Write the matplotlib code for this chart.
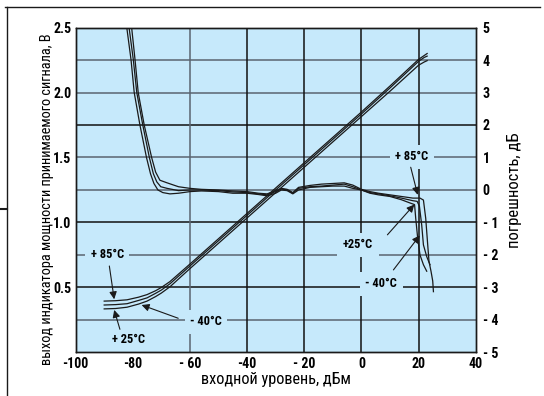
import matplotlib.pyplot as plt
from matplotlib.lines import Line2D
from matplotlib import font_manager

# =========================
# data
# =========================
x_ticks = [-100, -80, -60, -40, -20, 0, 20, 40]
x_tick_labels = ["-100", "-80", "- 60", "-40", "- 20", "0", "20", "40"]
v_ticks = [0.5, 1.0, 1.5, 2.0, 2.5]
v_tick_labels = ["0.5", "1.0", "1.5", "2.0", "2.5"]
db_ticks = [5, 4, 3, 2, 1, 0, -1, -2, -3, -4, -5]
db_tick_labels = ["5", "4", "3", "2", "1", "0", "- 1", "- 2", "- 3", "- 4", "- 5"]

# output voltage vs input level (V)
out_x = [-90, -86, -82, -78, -75, -72, -70, -67, -60, -50, -40, -30, -20, -10, 0, 10, 20, 22, 23]
out_85 = [0.395, 0.398, 0.405, 0.425, 0.445, 0.475, 0.50, 0.545, 0.68, 0.875, 1.07, 1.265,
          1.46, 1.655, 1.85, 2.05, 2.255, 2.285, 2.30]
out_25 = [0.365, 0.368, 0.375, 0.40, 0.42, 0.455, 0.48, 0.528, 0.665, 0.86, 1.055, 1.25,
          1.445, 1.64, 1.835, 2.035, 2.24, 2.27, 2.28]
out_m40 = [0.335, 0.338, 0.348, 0.372, 0.395, 0.43, 0.457, 0.505, 0.645, 0.84, 1.035, 1.23,
           1.425, 1.62, 1.815, 2.01, 2.21, 2.235, 2.245]

# error vs input level (dB)
err_m40_x = [-83, -82.1, -80.6, -79.5, -77.5, -75.2, -73.8, -72.6, -71.2, -69.5, -67, -64, -60,
             -56, -50, -45, -40, -36, -33, -30, -28, -26, -24, -22, -18, -14, -10, -6, -3, 0,
             3, 6, 10, 14, 17, 18.6, 19.0, 19.7, 20.5, 21.7, 22.85]
err_m40 = [5.6, 5.0, 4.0, 3.0, 2.0, 1.0, 0.5, 0.2, 0.0, -0.08, -0.12, -0.1, -0.05,
           -0.03, -0.05, -0.1, -0.1, -0.14, -0.18, -0.1, 0.0, -0.02, -0.12, 0.0, 0.08, 0.1, 0.12, 0.12, 0.05, 0.0,
           -0.1, -0.15, -0.2, -0.3, -0.4, -0.45, -0.87, -1.49, -2.0, -2.3, -2.5]
err_25_x = [-82.2, -81.3, -79.8, -78.6, -76.5, -74.2, -72.8, -71.6, -70.2, -68, -64, -60, -56,
            -50, -45, -40, -36, -33, -30, -28, -26, -24, -22, -18, -14, -10, -6, -3, 0, 3,
            6, 10, 14, 18, 19.5, 20.3, 21.1, 21.7, 22.85, 24.0]
err_25 = [5.6, 5.0, 4.0, 3.0, 2.0, 1.0, 0.5, 0.25, 0.1, 0.05, -0.02, 0.0, 0.0,
          -0.02, -0.06, -0.08, -0.12, -0.15, -0.05, 0.03, 0.0, -0.1, 0.05, 0.1, 0.12, 0.15, 0.18, 0.1, 0.0, -0.08,
          -0.12, -0.18, -0.25, -0.33, -0.35, -0.5, -1.08, -1.69, -2.05, -2.3]
err_85_x = [-81.4, -80.4, -79.2, -78.1, -76, -73.4, -72, -70.5, -68, -64, -60, -56, -50,
            -45, -40, -36, -33, -30, -28, -26, -24, -22, -18, -14, -10, -6, -3, 0, 3, 6,
            10, 14, 18, 20.5, 21.7, 22.5, 23.2, 23.65, 24.35, 24.95, 25.2]
err_85 = [5.6, 5.0, 4.0, 3.0, 2.0, 1.0, 0.55, 0.3, 0.22, 0.1, 0.05, 0.02, 0.0,
          -0.03, -0.05, -0.1, -0.12, -0.02, 0.05, 0.02, -0.08, 0.08, 0.14, 0.18, 0.2, 0.22, 0.15, 0.02, -0.05, -0.1,
          -0.15, -0.2, -0.25, -0.25, -0.31, -0.87, -1.69, -2.2, -2.5, -2.8, -3.13]


# =========================
# fonts: prefer a narrow / condensed face if one is installed
# =========================
OTHER_WEIGHTS = ("Semi", "Extra", "Light", "Black", "Medium", "Thin", "Italic", "Oblique", "Heavy")


def pick_font(bold):
    keys = ["LiberationSansNarrow", "RobotoCondensed", "NotoSans-Condensed",
            "OpenSans_Condensed", "OpenSans-Condensed", "DejaVuSansCondensed"]
    for key in keys:
        for f in font_manager.fontManager.ttflist:
            base = f.fname.split("/")[-1]
            if not base.startswith(key):
                continue
            rest = base[len(key):]
            if any(w in rest for w in OTHER_WEIGHTS):
                continue
            if ("Bold" in rest) == bold:
                return font_manager.FontProperties(fname=f.fname)
    return font_manager.FontProperties(family=["Liberation Sans", "DejaVu Sans"],
                                       weight="bold" if bold else "normal")


def fp(bold, size):
    p = pick_font(bold).copy()
    p.set_size(size)
    return p


BG = "#c6e9fb"
INK = "#1a1a1a"
plt.rcParams["font.family"] = ["Liberation Sans", "DejaVu Sans"]

fig = plt.figure(figsize=(5.44, 3.96), dpi=100)
ax = fig.add_axes([0.139, 0.110, 0.7355, 0.8205])
ax.set_facecolor(BG)
ax.set_xlim(-100, 40)
ax.set_ylim(0, 2.5)

# grid
dark_h = [0.5, 1.0, 1.75]
for v in [0.25, 0.5, 0.75, 1.0, 1.25, 1.5, 1.75, 2.0, 2.25]:
    ax.axhline(v, color="#111111" if v in dark_h else "#5a6470", lw=1.1, zorder=1)
for xv in [-60, -40, -20, 0, 20]:
    ax.axvline(xv, color="#5a6470" if xv == -60 else "#111111", lw=1.1, zorder=1)

# output curves
for ys in (out_85, out_25, out_m40):
    ax.plot(out_x, ys, color=INK, lw=0.9, zorder=3)

ax.set_xticks(x_ticks)
ax.set_xticklabels(x_tick_labels, fontproperties=fp(True, 10))
ax.set_yticks(v_ticks)
ax.set_yticklabels(v_tick_labels, fontproperties=fp(True, 10))
ax.tick_params(length=0, pad=3)
xlab = ax.set_xlabel("входной уровень, дБм", fontproperties=fp(False, 12), labelpad=1)
ylab = ax.set_ylabel("выход индикатора мощности принимаемого сигнала, В",
                     fontproperties=fp(False, 12))
ax.yaxis.set_label_coords(-0.072, 0.472)
ylab.set_verticalalignment("center")

# error axis
ax2 = ax.twinx()
ax2.set_ylim(-5, 5)
ax2.set_yticks(db_ticks)
ax2.set_yticklabels(db_tick_labels, fontproperties=fp(True, 10))
ax2.tick_params(length=0, pad=5)
rlab = ax2.set_ylabel("погрешность, дБ", fontproperties=fp(False, 12))
ax2.yaxis.set_label_coords(1.096, 0.5)
rlab.set_verticalalignment("center")

for xs, ys in ((err_m40_x, err_m40), (err_25_x, err_25), (err_85_x, err_85)):
    ax2.plot(xs, ys, color=INK, lw=0.9, zorder=3)

for sp in list(ax.spines.values()) + list(ax2.spines.values()):
    sp.set_color(INK)
    sp.set_linewidth(1.0)

# shrink long labels until they fit the sizes seen in the reference
fig.canvas.draw()
r = fig.canvas.get_renderer()
h = ylab.get_window_extent(r).height
if h > 335:
    ylab.set_fontsize(12 * 335 / h)
w = xlab.get_window_extent(r).width
if w > 150:
    xlab.set_fontsize(max(10.5, 12 * 150 / w))

# labels and arrows
arrow = dict(arrowstyle="-|>", color=INK, lw=0.8, mutation_scale=11, shrinkA=0, shrinkB=0)
box = dict(facecolor=BG, edgecolor="none", pad=4)
lab = dict(fontproperties=fp(True, 9), ha="center", va="center", zorder=6, bbox=box)

ax.text(-88.9, 0.75, "+ 85°C", **lab)
ax.annotate("", xy=(-86.5, 0.409), xytext=(-88.2, 0.665), arrowprops=arrow, zorder=6)
ax.text(-81.5, 0.10, "+ 25°C", fontproperties=fp(True, 9), ha="center", va="center", zorder=6)
ax.annotate("", xy=(-86.5, 0.327), xytext=(-84.5, 0.178), arrowprops=arrow, zorder=6)
ax.text(-54.4, 0.237, "- 40°C", **lab)
ax.annotate("", xy=(-76.9, 0.365), xytext=(-64.1, 0.263), arrowprops=arrow, zorder=6)

ax2.text(17.7, 1.02, "+ 85°C", **lab)
ax2.annotate("", xy=(19.7, -0.15), xytext=(17.25, 0.7), arrowprops=arrow, zorder=6)
ax2.text(-1.2, -1.69, "+25°C", **lab)
ax2.annotate("", xy=(18.5, -0.45), xytext=(9.1, -1.38), arrowprops=arrow, zorder=6)
ax2.text(6.9, -2.89, "- 40°C", **lab)
ax2.annotate("", xy=(20.4, -1.4), xytext=(11.2, -2.46), arrowprops=arrow, zorder=6)

# page frame
fig.add_artist(Line2D([0.009, 0.993], [0.982, 0.982], color=INK, lw=1.0))
fig.add_artist(Line2D([0.013, 0.013], [0.0, 0.982], color=INK, lw=1.0))
fig.add_artist(Line2D([0.0, 0.013], [0.472, 0.472], color=INK, lw=1.5))

fig.savefig("out.png", dpi=100)
